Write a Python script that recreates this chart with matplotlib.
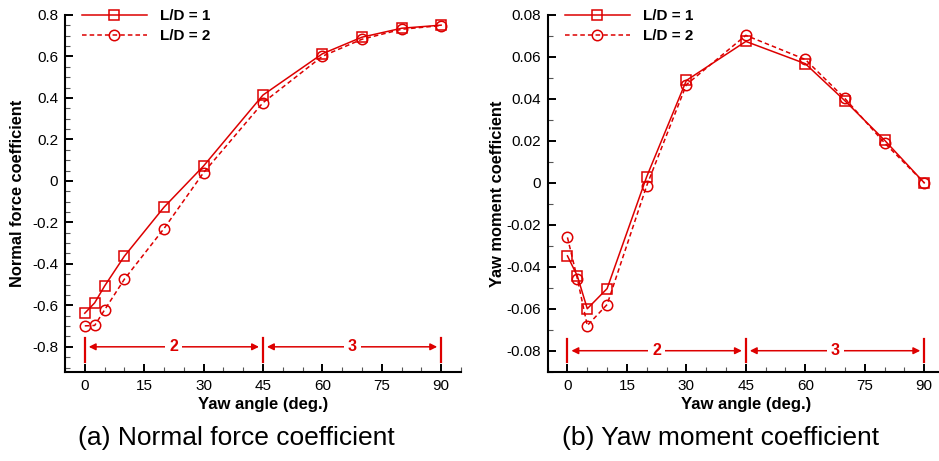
import matplotlib
matplotlib.use("Agg")
import matplotlib.pyplot as plt
from matplotlib.ticker import MultipleLocator, FuncFormatter

plt.rcParams['font.family'] = ['Liberation Sans', 'DejaVu Sans']

# yaw angles (deg.)
yaw = [0, 2.5, 5, 10, 20, 30, 45, 60, 70, 80, 90]

# normal force coefficient
cn_ld1 = [-0.638, -0.588, -0.507, -0.363, -0.127, 0.072, 0.414, 0.613, 0.693, 0.736, 0.751]
cn_ld2 = [-0.699, -0.697, -0.622, -0.474, -0.230, 0.040, 0.377, 0.601, 0.683, 0.731, 0.749]

# yaw moment coefficient
cm_ld1 = [-0.0348, -0.0444, -0.0600, -0.0504, 0.0030, 0.0488, 0.0674, 0.0568, 0.0391, 0.0203, 0.0]
cm_ld2 = [-0.0260, -0.0457, -0.0680, -0.0580, -0.0013, 0.0468, 0.0703, 0.0588, 0.0402, 0.0190, 0.0]

labels = ['L/D = 1', 'L/D = 2']
regions = ['2', '3']
region_edges = [0, 45, 90]

red = '#dd0000'

fig = plt.figure(figsize=(9.39, 4.61), dpi=100)
ax1 = fig.add_axes([0.0692, 0.1937, 0.4217, 0.7738])
ax2 = fig.add_axes([0.5832, 0.1937, 0.4222, 0.7738])


def style_axes(ax, ylim, major, minor, fmt, ylabel, ylab_x):
    ax.set_xlim(-5, 95)
    ax.set_ylim(*ylim)
    ax.spines['top'].set_visible(False)
    ax.spines['right'].set_visible(False)
    for s in ['left', 'bottom']:
        ax.spines[s].set_linewidth(1.5)
    ax.xaxis.set_major_locator(MultipleLocator(15))
    ax.xaxis.set_minor_locator(MultipleLocator(5))
    ax.yaxis.set_major_locator(MultipleLocator(major))
    ax.yaxis.set_minor_locator(MultipleLocator(minor))
    ax.yaxis.set_major_formatter(FuncFormatter(fmt))
    ax.tick_params(which='major', direction='in', length=6, width=1.4,
                   labelsize=11, pad=5)
    ax.tick_params(which='minor', direction='in', length=3.5, width=0.8, color='#555555')
    ax.set_xlabel('Yaw angle (deg.)', fontsize=12, fontweight='bold', labelpad=3)
    ax.set_ylabel(ylabel, fontsize=11.8, fontweight='bold', va='center')
    ax.yaxis.set_label_coords(ylab_x, 0.5)


def draw_series(ax, a, b):
    ax.plot(yaw, a, color=red, lw=1.1, marker='s', ms=7, mfc='none', mec=red,
            mew=1.1, label=labels[0])
    ax.plot(yaw, b, color=red, lw=1.1, ls=(0, (3, 2)), marker='o', ms=7.5,
            mfc='none', mec=red, mew=1.1, label=labels[1])
    ax.legend(loc='upper left', bbox_to_anchor=(0.043, 1.017), frameon=False,
              borderpad=0, borderaxespad=0, handlelength=4.25, handletextpad=0.85,
              labelspacing=0.4, prop={'size': 11, 'weight': 'bold'})


def draw_regions(ax, yarrow, ybar0, ybar1, dx):
    for e in region_edges:
        ax.plot([e, e], [ybar0, ybar1], color=red, lw=1.6)
    for i, lab in enumerate(regions):
        x0, x1 = region_edges[i], region_edges[i + 1]
        ax.annotate('', xy=(x0 + dx, yarrow), xytext=(x1 - dx, yarrow),
                    arrowprops=dict(arrowstyle='<|-|>', color=red, lw=1.1,
                                    mutation_scale=10, shrinkA=0, shrinkB=0))
        ax.text((x0 + x1) / 2, yarrow, lab, color=red, fontsize=11.5,
                fontweight='bold', ha='center', va='center',
                bbox=dict(boxstyle='square,pad=0.25', fc='white', ec='none'))


draw_series(ax1, cn_ld1, cn_ld2)
style_axes(ax1, (-0.92, 0.8), 0.2, 0.05,
           lambda v, p: '0' if abs(v) < 1e-9 else '%.1f' % v,
           'Normal force coefficient', -47 / 396)
draw_regions(ax1, -0.8, -0.757, -0.872, 1.0)

draw_series(ax2, cm_ld1, cm_ld2)
style_axes(ax2, (-0.09, 0.08), 0.02, 0.01,
           lambda v, p: '0' if abs(v) < 1e-9 else '%.2f' % v,
           'Yaw moment coefficient', -50 / 396)
draw_regions(ax2, -0.08, -0.0742, -0.0854, 1.0)

fig.text(0.252, 0.05, '(a) Normal force coefficient', fontsize=19,
         ha='center', va='center')
fig.text(0.767, 0.05, '(b) Yaw moment coefficient', fontsize=19,
         ha='center', va='center')

fig.savefig('out.png', dpi=100)
